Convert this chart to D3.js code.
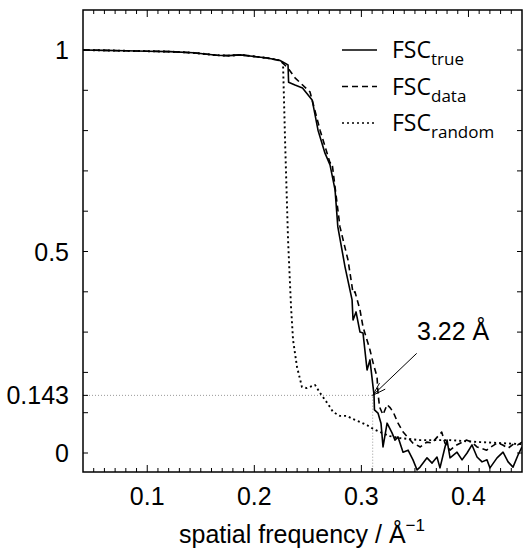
<!DOCTYPE html>
<html>
<head>
<meta charset="utf-8">
<script src="https://cdn.jsdelivr.net/npm/d3@7"></script>
<style>
  body { margin: 0; background: #fff; }
  svg { display: block; }
  text { font-family: "Liberation Sans", Arial, sans-serif; fill: #000; }
  .legend text { font-family: "Open Sans", "Noto Sans", sans-serif; }
</style>
</head>
<body>
<svg id="chart" width="525" height="553"></svg>
<script>
// data
const trueFreq = [0.04, 0.06, 0.08, 0.10, 0.121, 0.143, 0.165, 0.176, 0.187, 0.2, 0.212, 0.224, 0.2315,
  0.232, 0.238, 0.245, 0.254, 0.2595, 0.266, 0.2707, 0.2754, 0.278, 0.2847, 0.2913, 0.2922, 0.295,
  0.2987, 0.3015, 0.3053, 0.308, 0.3109, 0.3118, 0.3122, 0.3155, 0.3183, 0.3202, 0.324, 0.3286,
  0.3314, 0.3342, 0.3389, 0.3436, 0.3482, 0.352, 0.3548, 0.3613, 0.366, 0.3706, 0.3734, 0.3781,
  0.380, 0.3828, 0.3893, 0.394, 0.3987, 0.4033, 0.408, 0.4127, 0.4173, 0.4201, 0.4267, 0.4323,
  0.437, 0.4416, 0.4463, 0.450];
const trueFsc = [1.0, 0.999, 0.998, 0.997, 0.996, 0.993, 0.987, 0.986, 0.988, 0.984, 0.980, 0.974, 0.963,
  0.920, 0.913, 0.906, 0.876, 0.801, 0.744, 0.715, 0.653, 0.561, 0.462, 0.380, 0.330, 0.350,
  0.300, 0.298, 0.206, 0.231, 0.164, 0.144, 0.107, 0.099, 0.074, 0.015, 0.074, 0.050,
  0.032, 0.040, 0.002, 0.007, -0.017, -0.042, -0.035, -0.012, -0.025, -0.010, -0.037, 0.015,
  0.032, -0.012, 0.002, -0.017, 0.000, 0.020, -0.010, -0.022, -0.017, -0.037, -0.012, 0.002,
  -0.022, -0.035, -0.005, 0.015];

const dataFreq = [0.04, 0.06, 0.08, 0.10, 0.121, 0.143, 0.165, 0.176, 0.187, 0.2, 0.212, 0.224, 0.2315,
  0.238, 0.252, 0.2548, 0.2614, 0.2707, 0.2726, 0.280, 0.2875, 0.2922, 0.294, 0.2987, 0.3015, 0.308,
  0.311, 0.3146, 0.3155, 0.317, 0.3202, 0.324, 0.327, 0.330, 0.3342, 0.339, 0.343, 0.348, 0.355,
  0.361, 0.366, 0.375, 0.378, 0.3828, 0.389, 0.398, 0.403, 0.408, 0.417, 0.421, 0.427, 0.432,
  0.437, 0.442, 0.446, 0.450];
const dataFsc = [1.0, 0.999, 0.998, 0.997, 0.996, 0.993, 0.987, 0.986, 0.988, 0.984, 0.980, 0.974, 0.955,
  0.931, 0.896, 0.868, 0.801, 0.720, 0.720, 0.561, 0.479, 0.397, 0.400, 0.355, 0.313, 0.256,
  0.223, 0.189, 0.149, 0.114, 0.095, 0.120, 0.112, 0.100, 0.074, 0.052, 0.040, 0.025, 0.015,
  0.027, 0.025, 0.052, 0.025, 0.007, 0.020, 0.032, 0.027, 0.015, 0.007, 0.015, 0.025, 0.020,
  0.012, 0.022, 0.020, 0.027];

const randFreq = [0.04, 0.06, 0.08, 0.10, 0.121, 0.143, 0.165, 0.176, 0.187, 0.2, 0.212, 0.224, 0.2268,
  0.2287, 0.2315, 0.2343, 0.2362, 0.2399, 0.2445, 0.2492, 0.252, 0.2567, 0.2614, 0.266, 0.2707,
  0.2735, 0.280, 0.2866, 0.2922, 0.2987, 0.3053, 0.3109, 0.3174, 0.3267, 0.336, 0.3548, 0.3828,
  0.4108, 0.450];
const randFsc = [1.0, 0.999, 0.998, 0.997, 0.996, 0.993, 0.987, 0.986, 0.988, 0.984, 0.980, 0.974, 0.968,
  0.777, 0.529, 0.362, 0.280, 0.213, 0.164, 0.161, 0.164, 0.169, 0.149, 0.132, 0.114,
  0.102, 0.092, 0.092, 0.084, 0.077, 0.069, 0.060, 0.052, 0.042, 0.037, 0.032, 0.032,
  0.027, 0.022];

const xTickLabels = [0.1, 0.2, 0.3, 0.4];
const yTickLabels = [0, 0.143, 0.5, 1];
const legendNames = ["true", "data", "random"];
const threshold = 0.143;
const resFreq = 1 / 3.22;

const svg = d3.select("#chart");
const plotLeft = 83, plotRight = 522, plotTop = 10, plotBottom = 472;

const x = d3.scaleLinear().domain([0.04, 0.45]).range([plotLeft, plotRight]);
const y = d3.scaleLinear().domain([0, 1]).range([453, 50]);

svg.append("clipPath").attr("id", "clip")
  .append("rect").attr("x", plotLeft).attr("y", plotTop)
  .attr("width", plotRight - plotLeft).attr("height", plotBottom - plotTop);

// reference lines for the 0.143 crossing
svg.append("path")
  .attr("d", `M${plotLeft},${y(threshold)}H${x(resFreq)}V${plotBottom}`)
  .attr("fill", "none").attr("stroke", "#999").attr("stroke-width", 1)
  .attr("stroke-dasharray", "1,2");

// curves
const series = [
  { name: "true", xs: trueFreq, ys: trueFsc, dash: null, w: 1.6 },
  { name: "data", xs: dataFreq, ys: dataFsc, dash: "6,4", w: 1.6 },
  { name: "random", xs: randFreq, ys: randFsc, dash: "2,3", w: 1.9 }
];
const line = d3.line().x(d => x(d[0])).y(d => y(d[1]));

svg.append("g").attr("clip-path", "url(#clip)")
  .selectAll("path").data(series).enter().append("path")
  .attr("d", s => line(s.xs.map((v, i) => [v, s.ys[i]])))
  .attr("fill", "none").attr("stroke", "#000").attr("stroke-width", s => s.w)
  .attr("stroke-linejoin", "round")
  .attr("stroke-dasharray", s => s.dash);

// ticks on all four sides, pointing inwards
const xMinor = d3.range(5, 45).map(i => i / 100);
const yTicks = d3.range(0, 11).map(i => i / 10).concat([threshold]);
const tickG = svg.append("g").attr("stroke", "#000").attr("stroke-width", 1);
xMinor.forEach(v => {
  const len = Math.abs(v * 10 - Math.round(v * 10)) < 1e-6 ? 7 : 4;
  tickG.append("line").attr("x1", x(v)).attr("x2", x(v)).attr("y1", plotBottom).attr("y2", plotBottom - len);
  tickG.append("line").attr("x1", x(v)).attr("x2", x(v)).attr("y1", plotTop).attr("y2", plotTop + len);
});
yTicks.forEach(v => {
  tickG.append("line").attr("x1", plotLeft).attr("x2", plotLeft + 5).attr("y1", y(v)).attr("y2", y(v));
  tickG.append("line").attr("x1", plotRight).attr("x2", plotRight - 5).attr("y1", y(v)).attr("y2", y(v));
});

// frame
svg.append("rect").attr("x", plotLeft).attr("y", plotTop)
  .attr("width", plotRight - plotLeft).attr("height", plotBottom - plotTop)
  .attr("fill", "none").attr("stroke", "#000").attr("stroke-width", 1.5);

// tick labels
svg.selectAll(".xl").data(xTickLabels).enter().append("text")
  .attr("x", d => x(d)).attr("y", 505).attr("text-anchor", "middle")
  .attr("font-size", 25).text(d => d);
svg.selectAll(".yl").data(yTickLabels).enter().append("text")
  .attr("x", 69).attr("y", d => y(d) + 9).attr("text-anchor", "end")
  .attr("font-size", 25).text(d => d);

// axis title
const title = svg.append("text").attr("x", 302).attr("y", 543).attr("text-anchor", "middle").attr("font-size", 25);
title.append("tspan").text("spatial frequency / Å");
title.append("tspan").attr("dy", -12).attr("font-size", 17).text("\u22121");

// annotation
const ax = x(resFreq), ay = y(threshold);
const sx = ax + 44, sy = ay - 42;
const ang = Math.atan2(sy - ay, sx - ax);
const ah = 14;
svg.append("path")
  .attr("d", `M${sx},${sy}L${ax},${ay}` +
    `M${ax + ah * Math.cos(ang - 0.3)},${ay + ah * Math.sin(ang - 0.3)}L${ax},${ay}` +
    `L${ax + ah * Math.cos(ang + 0.3)},${ay + ah * Math.sin(ang + 0.3)}`)
  .attr("fill", "none").attr("stroke", "#000").attr("stroke-width", 1);
svg.append("text").attr("x", 417).attr("y", 340).attr("font-size", 25).text("3.22 Å");

// legend
const legend = svg.append("g").attr("class", "legend");
series.forEach((s, i) => {
  const ly = 50 + i * 36.5;
  legend.append("line").attr("x1", 342).attr("x2", 377).attr("y1", ly).attr("y2", ly)
    .attr("stroke", "#000").attr("stroke-width", 1.4).attr("stroke-dasharray", s.dash);
  const t = legend.append("text").attr("x", 392).attr("y", ly + 8).attr("font-size", 23);
  t.append("tspan").text("FSC");
  t.append("tspan").attr("dy", 7).attr("font-size", 17).text(legendNames[i]);
});
</script>
</body>
</html>
